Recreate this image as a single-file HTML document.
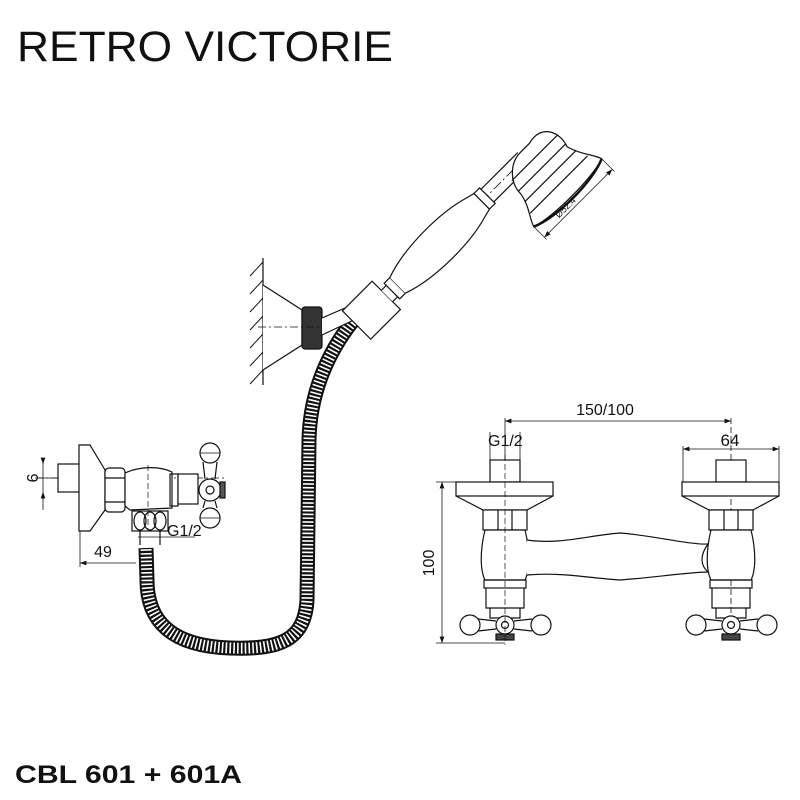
<!DOCTYPE html>
<html><head><meta charset="utf-8"><style>
html,body{margin:0;padding:0;background:#fff;width:800px;height:800px;overflow:hidden}
svg{display:block}
text{font-family:"Liberation Sans",sans-serif;fill:#111}
</style></head><body>
<svg width="800" height="800" viewBox="0 0 800 800" xmlns="http://www.w3.org/2000/svg">
<defs>
<marker id="ar" markerWidth="8" markerHeight="6" refX="8" refY="3" orient="auto"><path d="M0,0 L8,3 L0,6z" fill="#111"/></marker>
<marker id="al" markerWidth="8" markerHeight="6" refX="0" refY="3" orient="auto"><path d="M8,0 L0,3 L8,6z" fill="#111"/></marker>
</defs>
<text x="17" y="61" font-size="43" textLength="376" lengthAdjust="spacingAndGlyphs">RETRO VICTORIE</text>
<text x="15" y="783" font-size="25" font-weight="bold" textLength="227" lengthAdjust="spacingAndGlyphs">CBL 601 + 601A</text>

<g fill="none" stroke="#111" stroke-width="1.2">
<!-- hose -->
<path d="M352,322 C330,350 310,390 309,440 L307,600 C305,640 280,650 230,648 C170,646 147,620 147,580 L146,548" stroke="#111" stroke-width="15"/>
<path d="M352,322 C330,350 310,390 309,440 L307,600 C305,640 280,650 230,648 C170,646 147,620 147,580 L146,548" stroke="#fff" stroke-width="11" stroke-dasharray="1.6 2.2"/>

<!-- wall -->
<line x1="263" y1="258" x2="263" y2="385"/>
<g stroke-width="1">
<line x1="263" y1="262" x2="250" y2="276"/><line x1="263" y1="280" x2="250" y2="294"/><line x1="263" y1="298" x2="250" y2="312"/><line x1="263" y1="316" x2="250" y2="330"/><line x1="263" y1="334" x2="250" y2="348"/><line x1="263" y1="352" x2="250" y2="366"/><line x1="263" y1="370" x2="250" y2="384"/>
</g>
<path d="M263,285 L302,310 L302,345 L263,370" fill="#fff"/>
<rect x="302" y="307" width="20" height="42" rx="3" fill="#333"/>
<line x1="258" y1="327" x2="335" y2="327" stroke-dasharray="8 3 2 3" stroke-width="0.8"/>
<path d="M322,318 L352,305 L358,318 L322,335" fill="#fff"/>

<!-- hand shower -->
<g transform="translate(370,313) rotate(-45)">
<line x1="-5" y1="0" x2="215" y2="0" stroke-dasharray="10 3 2 3" stroke-width="0.8"/>
<rect x="-18" y="-21" width="42" height="40" fill="#fff"/>
<path d="M24,-8 L32,-8 L32,8 L24,8" fill="#fff"/>
<rect x="31" y="-11" width="8" height="22" fill="#fff"/>
<path d="M39,-11 C70,-22 120,-22 150,-13 L158,-11 L158,11 L150,13 C120,22 70,22 39,11" fill="#fff"/>
<rect x="158" y="-11" width="8" height="22" fill="#fff"/>
<path d="M166,-9 L218,-9 M166,9 L210,9"/>
</g>
<g transform="translate(555,180) rotate(45)">
<path d="M-44,-8 C-50,-30 -30,-38 -15,-32 C0,-36 10,-46 18,-48 C25,-30 25,30 18,48 C10,46 0,36 -15,34 C-30,34 -44,20 -44,5 Z" fill="#fff"/>
<line x1="-30" y1="-33" x2="-30" y2="31"/><line x1="-18" y1="-33" x2="-18" y2="34"/><line x1="-6" y1="-36" x2="-6" y2="37"/><line x1="6" y1="-40" x2="6" y2="41"/>
<path d="M18,-48 C28,-25 28,25 18,48" stroke-width="2.5"/>
<line x1="18" y1="-48" x2="36" y2="-48" stroke-width=".7"/><line x1="18" y1="48" x2="36" y2="48" stroke-width=".7"/>
<line x1="33" y1="-48" x2="33" y2="48" marker-start="url(#al)" marker-end="url(#ar)" stroke-width="0.8"/>
<text x="0" y="0" font-size="9" transform="translate(30,12) rotate(-90)" stroke="none" text-anchor="middle">Ø52.4</text>
</g>

<!-- left valve -->
<line x1="35" y1="478" x2="225" y2="478" stroke-dasharray="8 3 2 3" stroke-width="0.8"/>
<rect x="58" y="464" width="22" height="28" fill="#fff"/>
<path d="M79,445 L90,445 L105,470 L105,510 L90,531 L79,531 Z" fill="#fff"/>
<rect x="105" y="468" width="20" height="44" rx="4" fill="#fff"/>
<line x1="105" y1="478" x2="125" y2="478"/><line x1="105" y1="502" x2="125" y2="502"/>
<path d="M125,473 C140,466 160,466 172,472 L172,508 L130,510 L125,506 Z" fill="#fff"/>
<rect x="170" y="474" width="8" height="32"/>
<rect x="178" y="474" width="20" height="30" fill="#fff"/>
<circle cx="210" cy="490" r="11" fill="#fff"/><circle cx="210" cy="490" r="4"/>
<path d="M205,479 L203,462 M215,479 L217,462 M205,501 L203,508 M215,501 L217,508"/>
<circle cx="210" cy="453" r="10" fill="#fff"/><circle cx="210" cy="518" r="10" fill="#fff"/>
<line x1="200" y1="453" x2="220" y2="453" stroke-width=".7"/><line x1="200" y1="518" x2="220" y2="518" stroke-width=".7"/>
<rect x="220" y="482" width="5" height="16" fill="#555"/>
<rect x="132" y="511" width="36" height="20" fill="#fff"/>
<ellipse cx="140" cy="521" rx="6" ry="9"/><ellipse cx="150" cy="521" rx="6" ry="9"/><ellipse cx="160" cy="521" rx="6" ry="9"/>
<line x1="140" y1="530" x2="140" y2="545"/><line x1="160" y1="530" x2="160" y2="545"/>
<line x1="138" y1="537" x2="195" y2="537" stroke-width=".8"/>
<line x1="148" y1="465" x2="148" y2="530" stroke-dasharray="6 3" stroke-width=".7"/>
<!-- dims left -->
<line x1="43" y1="458" x2="43" y2="510" stroke-width=".8"/>
<line x1="43" y1="458" x2="43" y2="464" marker-end="url(#ar)" stroke-width=".8"/>
<line x1="43" y1="500" x2="43" y2="492" marker-end="url(#ar)" stroke-width=".8"/>
<line x1="38" y1="478" x2="58" y2="478" stroke-width=".8"/>
<line x1="80" y1="531" x2="80" y2="567" stroke-width=".8"/>
<line x1="136" y1="563" x2="80" y2="563" marker-end="url(#ar)" stroke-width=".8"/>
</g>
<text x="0" y="0" font-size="16" transform="translate(27,478) rotate(90)" text-anchor="middle">9</text>
<text x="103" y="557" font-size="16" text-anchor="middle">49</text>
<text x="167" y="536" font-size="16">G1/2</text>

<!-- right drawing -->
<g fill="none" stroke="#111" stroke-width="1.2">
<line x1="505" y1="418" x2="505" y2="478" stroke-width=".8"/>
<line x1="731" y1="418" x2="731" y2="640" stroke-width=".8" stroke-dasharray="6 3"/>
<line x1="505" y1="421" x2="731" y2="421" marker-start="url(#al)" marker-end="url(#ar)" stroke-width=".8"/>
<line x1="683" y1="449" x2="779" y2="449" marker-start="url(#al)" marker-end="url(#ar)" stroke-width=".8"/>
<line x1="683" y1="446" x2="683" y2="482" stroke-width=".8"/><line x1="779" y1="446" x2="779" y2="482" stroke-width=".8"/>
<line x1="490" y1="432" x2="490" y2="462" stroke-width=".8"/><line x1="520" y1="432" x2="520" y2="462" stroke-width=".8"/>
<line x1="436" y1="482" x2="456" y2="482" stroke-width=".8"/><line x1="436" y1="643" x2="505" y2="643" stroke-width=".8"/>
<line x1="442" y1="482" x2="442" y2="643" marker-start="url(#al)" marker-end="url(#ar)" stroke-width=".8"/>

<g id="fx">
<rect x="490" y="460" width="30" height="22" fill="#fff"/>
<rect x="456" y="482" width="97" height="14" fill="#fff"/>
<path d="M456,496 L483,510 L527,510 L553,496"/>
<rect x="483" y="510" width="44" height="20" fill="#fff"/>
<line x1="498" y1="510" x2="498" y2="530"/><line x1="512" y1="510" x2="512" y2="530"/>
<path d="M485,530 C480,550 480,570 485,580 L525,580 C530,570 530,550 525,530 Z" fill="#fff"/>
<rect x="484" y="580" width="42" height="8"/>
<path d="M486,588 L486,608 L524,608 L524,588"/>
<path d="M490,608 L490,618 L520,618 L520,608"/>
<circle cx="505" cy="625" r="9" fill="#fff"/><circle cx="505" cy="625" r="3.5"/>
<path d="M496,621 L478,619 M496,629 L478,631 M514,621 L532,619 M514,629 L532,631"/>
<circle cx="470" cy="625" r="10" fill="#fff"/><circle cx="541" cy="625" r="10" fill="#fff"/>
<rect x="496" y="634" width="18" height="6" fill="#444"/>
</g>
<use href="#fx" transform="translate(226,0)"/>
<path d="M527,540 C560,545 590,535 620,533 C650,535 690,545 708,544 C700,555 700,565 708,572 C690,572 650,578 620,580 C590,578 560,572 527,575" fill="#fff"/>
<line x1="505" y1="455" x2="505" y2="645" stroke-width=".7" stroke-dasharray="6 3"/>
</g>
<text x="605" y="415" font-size="16" text-anchor="middle">150/100</text>
<text x="730" y="446" font-size="17" text-anchor="middle">64</text>
<text x="488" y="446" font-size="16">G1/2</text>
<text x="0" y="0" font-size="16" transform="translate(434,563) rotate(-90)" text-anchor="middle">100</text>
</svg>
</body></html>
